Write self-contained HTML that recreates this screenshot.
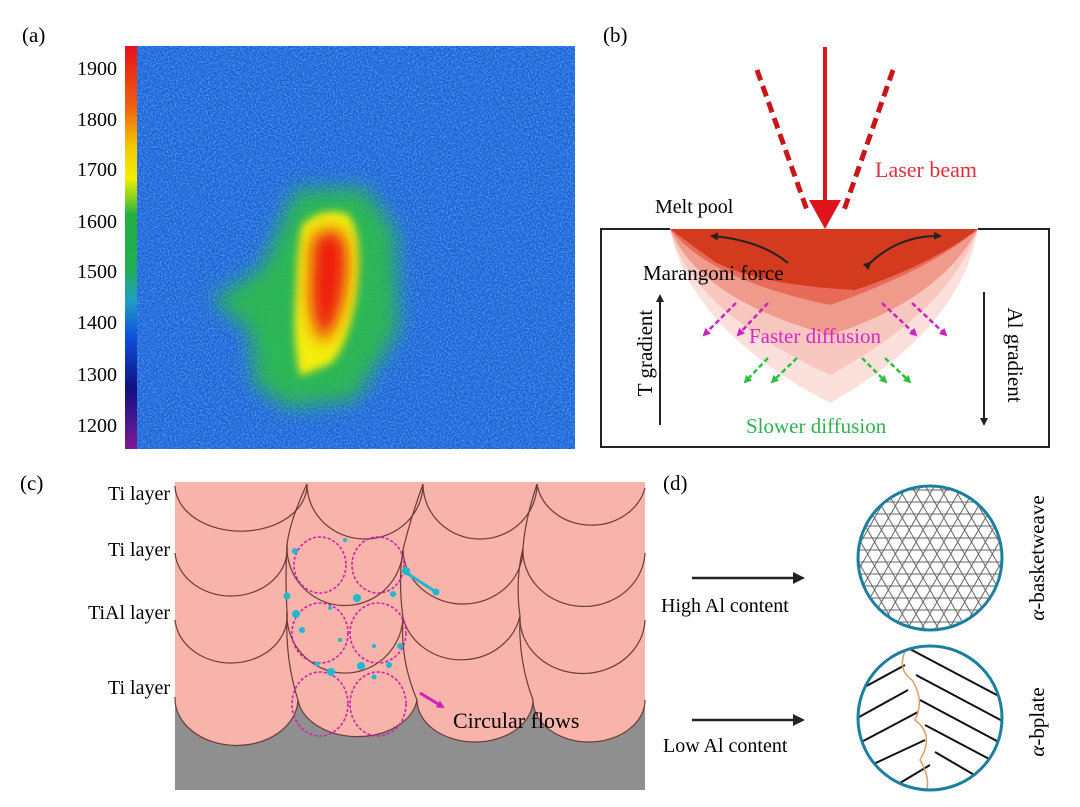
<!DOCTYPE html>
<html><head><meta charset="utf-8"><style>
body{margin:0;background:#fff}
svg{display:block}
text{font-family:"Liberation Serif",serif}
</style></head><body>
<svg width="1080" height="807" viewBox="0 0 1080 807" xmlns="http://www.w3.org/2000/svg">
<defs>
<linearGradient id="cb" x1="0" y1="0" x2="0" y2="1">
<stop offset="0" stop-color="#e8101a"/><stop offset="0.15" stop-color="#f06010"/><stop offset="0.25" stop-color="#f5c800"/><stop offset="0.33" stop-color="#f0f000"/><stop offset="0.38" stop-color="#80d020"/><stop offset="0.42" stop-color="#20b040"/><stop offset="0.55" stop-color="#20b050"/><stop offset="0.63" stop-color="#20a0c0"/><stop offset="0.72" stop-color="#1050e0"/><stop offset="0.85" stop-color="#101080"/><stop offset="0.92" stop-color="#401890"/><stop offset="1" stop-color="#801890"/>
</linearGradient>
<filter id="noise" x="0" y="0" width="1" height="1">
<feTurbulence type="fractalNoise" baseFrequency="0.6" numOctaves="2" seed="3"/>
<feColorMatrix values="0 0 0 0 0.12  0 0 0 0 0.5  0 0 0 0 0.9  0 0 0 1.6 -0.6"/>
</filter>
<filter id="b6" x="-30%" y="-30%" width="160%" height="160%"><feGaussianBlur stdDeviation="10"/></filter>
<filter id="b3" x="-30%" y="-30%" width="160%" height="160%"><feGaussianBlur stdDeviation="4"/></filter>
<filter id="b8" x="-50%" y="-50%" width="200%" height="200%"><feGaussianBlur stdDeviation="8"/></filter>
<clipPath id="c1"><circle cx="930" cy="558" r="72"/></clipPath>
<clipPath id="c2"><circle cx="930" cy="718" r="72"/></clipPath>
<clipPath id="ca"><rect x="137" y="46" width="438" height="403"/></clipPath>
<marker id="ah" markerWidth="8" markerHeight="8" refX="6" refY="4" orient="auto" markerUnits="userSpaceOnUse"><path d="M0,0 L8,4 L0,8 z" fill="#222"/></marker>
<marker id="am" markerWidth="8" markerHeight="8" refX="6" refY="4" orient="auto" markerUnits="userSpaceOnUse"><path d="M0,0 L8,4 L0,8 z" fill="#d020c0"/></marker>
<marker id="ag" markerWidth="8" markerHeight="8" refX="6" refY="4" orient="auto" markerUnits="userSpaceOnUse"><path d="M0,0 L8,4 L0,8 z" fill="#30c040"/></marker>
<marker id="ab" markerWidth="12" markerHeight="12" refX="9" refY="6" orient="auto" markerUnits="userSpaceOnUse"><path d="M0,0 L12,6 L0,12 z" fill="#222"/></marker>
</defs>

<!-- Panel a -->
<text x="22" y="42" font-size="21">(a)</text>
<rect x="125" y="46" width="12" height="403" fill="url(#cb)"/>
<rect x="137" y="46" width="438" height="403" fill="#1e5fd8"/>
<rect x="137" y="46" width="438" height="403" filter="url(#noise)"/>
<g clip-path="url(#ca)">
<g filter="url(#b6)">
<path d="M212,300 L262,268 L295,190 L365,188 L395,230 L398,330 L355,400 L290,408 L255,385 L250,330 Z" fill="#2dbe48" opacity="0.9"/>
</g>
<g filter="url(#b3)">
<path d="M302,225 Q322,206 347,214 Q365,232 356,300 Q346,350 330,364 L300,376 Q292,340 296,290 Q297,245 302,225 Z" fill="#f3ee10"/>
</g>
<g filter="url(#b8)">
<path d="M312,240 Q326,224 342,234 Q352,255 343,300 Q336,330 322,342 Q310,320 310,290 Z" fill="#ee1a10"/>
</g>
</g>
<g font-size="20" text-anchor="end">
<text x="117" y="75">1900</text><text x="117" y="126">1800</text><text x="117" y="176">1700</text><text x="117" y="228">1600</text><text x="117" y="278">1500</text><text x="117" y="329">1400</text><text x="117" y="381">1300</text><text x="117" y="432">1200</text>
</g>

<!-- Panel b -->
<text x="603" y="42" font-size="21">(b)</text>
<path d="M670,229 Q690,330 830,403 Q960,330 978,229 Z" fill="#fbe0dc"/>
<path d="M670,229 Q690,310 830,375 Q950,310 978,229 Z" fill="#f8c8c0"/>
<path d="M670,229 Q700,300 830,335 Q940,300 978,229 Z" fill="#f09a8c"/>
<path d="M670,229 Q710,280 830,305 Q930,270 978,229 Z" fill="#e86a58"/>
<path d="M670,229 L978,229 Q930,265 855,290 Q760,285 715,262 Z" fill="#d43a1e"/>
<path d="M978,229 H1049 V447 H601 V229 H670" fill="none" stroke="#222" stroke-width="2"/>
<line x1="825" y1="47" x2="825" y2="200" stroke="#e0141c" stroke-width="4"/>
<path d="M809,200 L841,200 L825,229 Z" fill="#e0141c"/>
<g stroke="#c8161c" stroke-width="5" stroke-dasharray="11,6"><line x1="757" y1="70" x2="808" y2="213"/><line x1="893" y1="70" x2="843" y2="213"/></g>
<text x="875" y="177" font-size="22" fill="#e0303a">Laser beam</text>
<text x="655" y="213" font-size="20">Melt pool</text>
<path d="M788,263 Q760,240 712,236" fill="none" stroke="#222" stroke-width="2" marker-end="url(#ah)"/>
<path d="M870,263 Q900,235 940,236" fill="none" stroke="#222" stroke-width="2" marker-end="url(#ah)" marker-start="url(#ah)"/>
<text x="643" y="280" font-size="21">Marangoni force</text>
<g stroke="#d020c0" stroke-width="2.5" stroke-dasharray="5,3" fill="none" marker-end="url(#am)">
<line x1="736" y1="303" x2="704" y2="335"/><line x1="768" y1="303" x2="738" y2="335"/><line x1="882" y1="303" x2="916" y2="335"/><line x1="912" y1="303" x2="946" y2="335"/>
</g>
<text x="749" y="343" font-size="21" fill="#d828c8">Faster diffusion</text>
<g stroke="#30c040" stroke-width="2.5" stroke-dasharray="5,3" fill="none" marker-end="url(#ag)">
<line x1="768" y1="358" x2="745" y2="382"/><line x1="797" y1="358" x2="772" y2="382"/><line x1="862" y1="358" x2="886" y2="382"/><line x1="885" y1="358" x2="910" y2="382"/>
</g>
<text x="746" y="433" font-size="21" fill="#30b050">Slower diffusion</text>
<line x1="660" y1="425" x2="660" y2="296" stroke="#222" stroke-width="2" marker-end="url(#ah)"/>
<text transform="translate(652,353) rotate(-90)" font-size="21" text-anchor="middle">T gradient</text>
<line x1="984" y1="292" x2="984" y2="424" stroke="#222" stroke-width="2" marker-end="url(#ah)"/>
<text transform="translate(1008,355) rotate(90)" font-size="21" text-anchor="middle">Al gradient</text>

<!-- Panel c -->
<text x="20" y="490" font-size="21">(c)</text>
<g font-size="20" text-anchor="end">
<text x="170" y="500">Ti layer</text><text x="170" y="556">Ti layer</text><text x="170" y="619">TiAl layer</text><text x="170" y="694">Ti layer</text>
</g>
<rect x="175" y="482" width="470" height="308" fill="#f8b4aa"/>
<path d="M175,697 A55,42 0 0 0 298,700 A60,42 0 0 0 417,700 A58,42 0 0 0 533,700 A56,42 0 0 0 645,700 L645,790 L175,790 Z" fill="#8f8f8f"/>
<g fill="none" stroke="#6a3a36" stroke-width="1.2">
<path d="M175,486 A60,42 0 0 0 307,484 A58,55 0 0 0 423,484 A57,55 0 0 0 537,484 A55,48 0 0 0 645,488"/>
<path d="M175,553 A55,46 0 0 0 287,545 M287,545 A58,58 0 0 0 403,550 M403,550 A60,55 0 0 0 523,548 M523,548 A60,55 0 0 0 645,553"/>
<path d="M175,620 A55,46 0 0 0 287,612 M287,612 A58,58 0 0 0 403,618 M403,618 A60,55 0 0 0 520,616 M520,616 A62,55 0 0 0 645,620"/>
<path d="M175,697 A55,42 0 0 0 298,700 A60,42 0 0 0 417,700 A58,42 0 0 0 533,700 A56,42 0 0 0 645,700"/>
<path d="M287,545 Q290,520 307,484 M403,550 Q410,520 423,484 M523,548 Q525,520 537,484"/>
<path d="M287,612 Q285,580 287,545 M403,618 Q398,580 403,550 M520,616 Q515,580 523,548"/>
<path d="M298,700 Q285,660 287,612 M417,700 Q400,660 403,618 M533,700 Q518,660 520,616"/>
</g>
<g fill="none" stroke="#d020a8" stroke-width="1.6" stroke-dasharray="3,2">
<ellipse cx="320" cy="565" rx="26" ry="28"/><ellipse cx="378" cy="565" rx="26" ry="28"/>
<ellipse cx="320" cy="633" rx="28" ry="30"/><ellipse cx="378" cy="633" rx="28" ry="30"/>
<ellipse cx="320" cy="704" rx="28" ry="32"/><ellipse cx="378" cy="704" rx="28" ry="32"/>
</g>
<g fill="#20b8d0">
<circle cx="295" cy="551" r="3"/><circle cx="406" cy="571" r="4"/><circle cx="357" cy="598" r="4"/><circle cx="393" cy="594" r="3"/><circle cx="287" cy="596" r="3.5"/><circle cx="296" cy="614" r="4"/><circle cx="302" cy="630" r="3"/><circle cx="400" cy="646" r="3"/><circle cx="331" cy="672" r="4"/><circle cx="361" cy="666" r="4"/><circle cx="389" cy="665" r="3"/><circle cx="345" cy="540" r="2"/><circle cx="330" cy="608" r="2"/><circle cx="317" cy="664" r="2.5"/><circle cx="374" cy="677" r="2.5"/><circle cx="340" cy="640" r="2"/><circle cx="374" cy="646" r="2"/>
</g>
<line x1="405" y1="572" x2="436" y2="592" stroke="#20b8d0" stroke-width="3"/><circle cx="436" cy="592" r="3.5" fill="#20b8d0"/>
<line x1="420" y1="693" x2="443" y2="707" stroke="#d020c0" stroke-width="3" marker-end="url(#am)"/>
<text x="453" y="728" font-size="22">Circular flows</text>

<!-- Panel d -->
<text x="663" y="490" font-size="21">(d)</text>
<line x1="692" y1="578" x2="802" y2="578" stroke="#222" stroke-width="2.5" marker-end="url(#ab)"/>
<text x="661" y="612" font-size="20">High Al content</text>
<line x1="692" y1="720" x2="802" y2="720" stroke="#222" stroke-width="2.5" marker-end="url(#ab)"/>
<text x="663" y="752" font-size="20">Low Al content</text>
<g clip-path="url(#c1)" stroke="#666" stroke-width="1" fill="none">
<g id="hz"><line x1="850" y1="490" x2="1010" y2="490"/><line x1="850" y1="502" x2="1010" y2="502"/><line x1="850" y1="514" x2="1010" y2="514"/><line x1="850" y1="526" x2="1010" y2="526"/><line x1="850" y1="538" x2="1010" y2="538"/><line x1="850" y1="550" x2="1010" y2="550"/><line x1="850" y1="562" x2="1010" y2="562"/><line x1="850" y1="574" x2="1010" y2="574"/><line x1="850" y1="586" x2="1010" y2="586"/><line x1="850" y1="598" x2="1010" y2="598"/><line x1="850" y1="610" x2="1010" y2="610"/><line x1="850" y1="622" x2="1010" y2="622"/></g>
<use href="#hz" transform="rotate(60 930 558)"/>
<use href="#hz" transform="rotate(-60 930 558)"/>
</g>
<circle cx="930" cy="558" r="72" fill="none" stroke="#1a7fa0" stroke-width="3"/>
<g clip-path="url(#c2)" stroke="#111" stroke-width="2" fill="none">
<path d="M908,648 L1010,702 M916,675 L1010,725 M920,700 L1010,748 M925,725 L1010,770 M935,752 L1000,790 M900,640 L850,668 M905,665 L850,695 M908,690 L850,722 M918,712 L850,748 M925,740 L850,775 M930,765 L880,795"/>
<path d="M908,645 Q895,668 912,680 Q925,700 915,720 Q935,735 920,760 Q932,780 925,795" stroke="#d8a060" stroke-width="1.5"/>
</g>
<circle cx="930" cy="718" r="72" fill="none" stroke="#1a7fa0" stroke-width="3"/>
<text transform="translate(1044,558) rotate(-90)" font-size="21" text-anchor="middle"><tspan font-style="italic">α</tspan>-basketweave</text>
<text transform="translate(1044,722) rotate(-90)" font-size="21" text-anchor="middle"><tspan font-style="italic">α</tspan>-bplate</text>
</svg>
</body></html>
